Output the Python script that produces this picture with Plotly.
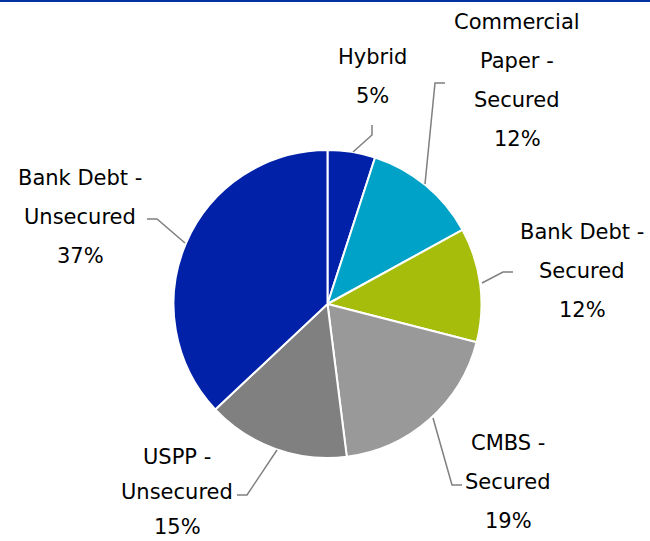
import plotly.graph_objects as go

# Funding mix by instrument, in percent, clockwise from 12 o'clock
labels = [
    "Hybrid",
    "Commercial Paper - Secured",
    "Bank Debt - Secured",
    "CMBS - Secured",
    "USPP - Unsecured",
    "Bank Debt - Unsecured",
]
values = [5, 12, 12, 19, 15, 37]
label_lines = [
    ["Hybrid"],
    ["Commercial", "Paper -", "Secured"],
    ["Bank Debt -", "Secured"],
    ["CMBS -", "Secured"],
    ["USPP -", "Unsecured"],
    ["Bank Debt -", "Unsecured"],
]
colors = ["#0021A8", "#00A2C7", "#A7BD0B", "#999999", "#808080", "#0021A8"]

W, H = 650, 541


def px(x):
    return x / W


def py(y):
    return 1 - y / H


fig = go.Figure(
    go.Pie(
        labels=labels,
        values=values,
        sort=False,
        direction="clockwise",
        rotation=0,
        textinfo="none",
        hoverinfo="label+percent",
        marker=dict(colors=colors, line=dict(color="white", width=2)),
        domain=dict(x=[px(173), px(482)], y=[py(458), py(150)]),
        showlegend=False,
    )
)

# Label block placement: centre x and y of the first text line, line pitch
label_pos = [
    (372, 57, 39),
    (517, 22, 39),
    (582, 232, 39),
    (508, 443, 39),
    (177, 457, 35),
    (80, 178, 39),
]

font = dict(family="DejaVu Sans", size=21, color="#000000")
annotations = []
for lines, val, (cx, cy, step) in zip(label_lines, values, label_pos):
    for i, t in enumerate(lines + [f"{val}%"]):
        annotations.append(
            dict(
                x=px(cx), y=py(cy + i * step), xref="paper", yref="paper",
                text=t, showarrow=False, xanchor="center", yanchor="middle",
                font=font,
            )
        )

# Leader lines from the labels to the slices
leaders = [
    [(372, 125), (372, 135), (353, 152)],
    [(445, 83), (435, 83), (425, 184)],
    [(513, 272), (503, 272), (482, 283)],
    [(433, 418), (452, 485), (462, 485)],
    [(237, 495), (247, 495), (277, 450)],
    [(147, 219), (157, 219), (185, 243)],
]
shapes = []
for pts in leaders:
    path = "M " + " L ".join(f"{px(x)},{py(y)}" for x, y in pts)
    shapes.append(
        dict(type="path", xref="paper", yref="paper", path=path,
             line=dict(color="#7F7F7F", width=1.5))
    )

# Rule across the top edge
shapes.append(
    dict(type="line", xref="paper", yref="paper", x0=0, x1=1, y0=py(1), y1=py(1),
         line=dict(color="#0033A0", width=2))
)

fig.update_layout(
    width=W, height=H,
    margin=dict(l=0, r=0, t=0, b=0),
    paper_bgcolor="white", plot_bgcolor="white",
    annotations=annotations,
    shapes=shapes,
)

fig.write_html("out.html")
